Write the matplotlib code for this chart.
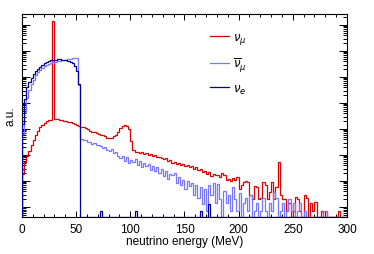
import numpy as np
import matplotlib
matplotlib.use("Agg")
import matplotlib.pyplot as plt
from matplotlib.ticker import LogLocator, MultipleLocator, NullFormatter

plt.rcParams['font.family'] = ['Liberation Sans', 'DejaVu Sans']

# bin edges in MeV (2 MeV bins), contents as log10(a.u.); nan = empty bin
energy_edges = np.arange(0, 301, 2)

numu_log = [
    1.27, 1.73, 1.96, 2.15, 2.38, 2.58, 2.77, 2.92, 3.08, 3.15,
    3.23, 3.29, 3.33, 3.35, 7.15, 3.38, 3.37, 3.35, 3.33, 3.31,
    3.29, 3.27, 3.25, 3.23, 3.19, 3.15, 3.12, 3.08, 3.06, 3.02,
    3.00, 2.94, 2.90, 2.88, 2.85, 2.81, 2.77, 2.75, 2.71, 2.67,
    2.65, 2.67, 2.71, 2.77, 2.88, 3.04, 3.12, 3.15, 3.13, 3.00,
    2.54, 2.19, 2.12, 2.12, 2.08, 2.10, 2.04, 2.06, 2.00, 2.04,
    1.96, 2.00, 1.92, 1.94, 1.88, 1.85, 1.87, 1.77, 1.81, 1.71,
    1.73, 1.67, 1.71, 1.62, 1.65, 1.58, 1.62, 1.54, 1.56, 1.46,
    1.52, 1.42, 1.46, 1.35, 1.38, 1.27, 1.35, 1.19, 1.27, 1.23,
    1.23, 1.15, 1.31, 1.23, 1.04, 1.08, 1.00, 1.12, 1.04, 1.15,
    0.69, 0.85, 0.96, 1.00, 0.96, 0.46, 0.31, 0.81, 0.77, 0.31,
    0.35, 0.96, 0.85, 0.31, 0.58, 0.96, 0.31, 0.77, 1.73, 0.46,
    0.31, 0.31, -0.14, 0.15, np.nan, -0.14, 0.38, 0.31, -0.14, np.nan,
    0.46, 0.35, np.nan, 0.15, -0.14, 0.19, np.nan, np.nan, -0.14, np.nan,
    -0.14, np.nan, np.nan, np.nan, np.nan, np.nan, -0.14, np.nan, np.nan, np.nan,
]

numubar_log = [
    2.81, 3.65, 4.19, 4.50, 4.73, 4.90, 5.06, 5.19, 5.27, 5.35,
    5.42, 5.46, 5.50, 5.54, 5.57, 5.58, 5.60, 5.62, 5.64, 5.65,
    5.67, 5.68, 5.70, 5.71, 5.73, 5.73, 4.69, 2.60, 2.58, 2.56,
    2.50, 2.50, 2.44, 2.46, 2.38, 2.37, 2.35, 2.27, 2.29, 2.19,
    2.17, 2.23, 2.08, 2.12, 1.96, 1.88, 1.96, 1.77, 1.92, 1.69,
    1.81, 1.73, 1.85, 1.62, 1.77, 1.54, 1.69, 1.58, 1.65, 1.42,
    1.58, 1.38, 1.54, 1.31, 1.46, 1.19, 1.38, 1.08, 1.27, 1.23,
    1.31, 0.92, 1.15, 0.85, 1.04, 0.69, 1.00, 0.81, 0.92, 0.46,
    0.85, 0.35, 0.77, 0.12, 0.69, -0.14, 0.85, 0.46, 0.92, 0.15,
    0.88, 0.31, np.nan, 0.62, 0.15, 0.46, -0.14, 0.77, 0.31, -0.14,
    0.54, np.nan, 0.15, 0.35, -0.14, 0.46, np.nan, -0.14, 0.15, np.nan,
    -0.14, 0.35, -0.14, np.nan, 0.15, -0.14, 0.58, 0.35, np.nan, -0.14,
    0.15, np.nan, -0.14, 0.31, -0.14, 0.15, np.nan, -0.14, 0.15, np.nan,
    -0.14, np.nan, np.nan, np.nan, np.nan, np.nan, np.nan, np.nan, np.nan, -0.14,
    -0.14, np.nan, np.nan, np.nan, np.nan, np.nan, np.nan, np.nan, np.nan, np.nan,
]

nue_log = [
    3.20, 4.15, 4.62, 4.81, 4.96, 5.10, 5.21, 5.31, 5.38, 5.46,
    5.52, 5.57, 5.61, 5.64, 5.66, 5.67, 5.68, 5.68, 5.67, 5.66,
    5.64, 5.62, 5.58, 5.52, 5.42, 5.23, 4.73,
]
# isolated single entries of nu_e above the endpoint (bin center, log10)
nue_tail_energy = [73, 105, 165, 173]
nue_tail_log = [-0.14, -0.14, -0.14, 0.10]

labels = [r'$\nu_\mu$', r'$\overline{\nu}_\mu$', r'$\nu_e$']
colors = ['#dd0000', '#7777ff', '#000099']

ylog_min, ylog_max = -0.385, 7.42
floor = 10 ** ylog_min


def to_counts(logs):
    arr = np.asarray(logs, dtype=float)
    out = np.full(arr.shape, floor)
    ok = ~np.isnan(arr)
    out[ok] = 10 ** arr[ok]
    return out


centers = 0.5 * (energy_edges[:-1] + energy_edges[1:])
nue_full = np.full(len(centers), np.nan)
nue_full[:len(nue_log)] = nue_log
for e, v in zip(nue_tail_energy, nue_tail_log):
    nue_full[np.argmin(np.abs(centers - e))] = v

fig = plt.figure(figsize=(3.74, 2.55), dpi=100)
ax = fig.add_axes([0.0588, 0.1451, 0.8690, 0.7961])
ax.set_yscale('log')

series = [numu_log, numubar_log, nue_full]
for vals, col, lab, z in zip(series, colors, labels, [3, 3.1, 3.2]):
    ax.stairs(to_counts(vals), energy_edges, baseline=floor,
              color=col, lw=0.9, label=lab, zorder=z)

ax.set_xlim(0, 300)
ax.set_ylim(floor, 10 ** ylog_max)

ax.xaxis.set_major_locator(MultipleLocator(50))
ax.xaxis.set_minor_locator(MultipleLocator(10))
ax.yaxis.set_major_locator(LogLocator(base=10, numticks=20))
ax.yaxis.set_minor_locator(LogLocator(base=10, subs=np.arange(2, 10), numticks=20))
ax.yaxis.set_major_formatter(NullFormatter())
ax.yaxis.set_minor_formatter(NullFormatter())

ax.tick_params(axis='x', which='both', direction='in', top=True, width=0.7,
               labelsize=8.5, pad=4)
ax.tick_params(axis='x', which='major', length=4.3)
ax.tick_params(axis='x', which='minor', length=2.2)
ax.tick_params(axis='y', which='both', direction='in', right=True, width=0.7,
               labelleft=False)
ax.tick_params(axis='y', which='major', length=5.8)
ax.tick_params(axis='y', which='minor', length=2.9)
for sp in ax.spines.values():
    sp.set_linewidth(0.8)

ax.set_xlabel('neutrino energy (MeV)', fontsize=8.5, labelpad=0)
ax.set_ylabel('a.u.', fontsize=8.5, labelpad=4)

ax.legend(loc='upper left', bbox_to_anchor=(0.545, 0.97), frameon=False,
          fontsize=8.5, handlelength=1.6, handletextpad=0.35,
          labelspacing=0.8)

fig.savefig('out.png', dpi=100)
